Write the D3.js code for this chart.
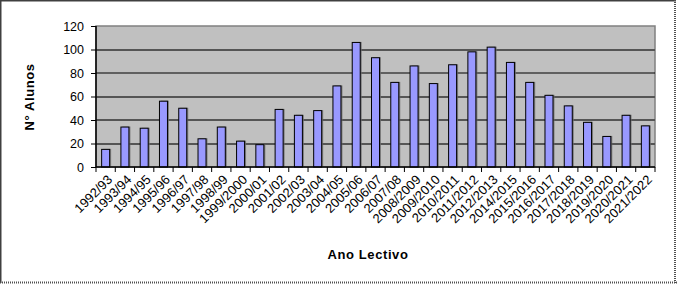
<!DOCTYPE html>
<html><head><meta charset="utf-8">
<script src="https://cdn.jsdelivr.net/npm/d3@7/dist/d3.min.js"></script>
<style>body{margin:0;background:#fff}svg{display:block}text{font-family:"Liberation Sans",Arial,sans-serif}</style>
</head><body>
<script>
const categories = ["1992/93","1993/94","1994/95","1995/96","1996/97","1997/98","1998/99","1999/2000","2000/01","2001/02","2002/03","2003/04","2004/05","2005/06","2006/07","2007/08","2008/2009","2009/2010","2010/2011","2011/2012","2012/2013","2014/2015","2015/2016","2016/2017","2017/2018","2018/2019","2019/2020","2020/2021","2021/2022"];
const values = [15,34,33,56,50,24,34,22,19,49,44,48,69,106,93,72,86,71,87,98,102,89,72,61,52,38,26,44,35];
const yTicks = [0,20,40,60,80,100,120];
const xTitle = "Ano Lectivo";
const yTitle = "N° Alunos";

const W = 677, H = 284;
const m = {left:96, top:26, right:655, bottom:167};
const svg = d3.select("body").append("svg").attr("width",W).attr("height",H);

// outer frame
svg.append("line").attr("x1",0.5).attr("x2",0.5).attr("y1",0).attr("y2",283).attr("stroke","#404040").attr("stroke-width",2);
svg.append("line").attr("x1",0).attr("x2",676).attr("y1",0.5).attr("y2",0.5).attr("stroke","#404040").attr("stroke-width",2);
svg.append("line").attr("x1",675).attr("x2",675).attr("y1",0).attr("y2",284).attr("stroke","#505050").attr("stroke-width",2).attr("stroke-dasharray","1,1");
svg.append("line").attr("x1",0).attr("x2",677).attr("y1",282.5).attr("y2",282.5).attr("stroke","#505050").attr("stroke-width",2).attr("stroke-dasharray","1,1");

const x = d3.scaleBand().domain(categories).range([m.left,m.right]).paddingInner(0).paddingOuter(0);
const y = d3.scaleLinear().domain([0,120]).range([m.bottom,m.top]);

// plot background
svg.append("rect").attr("x",m.left).attr("y",m.top).attr("width",m.right-m.left).attr("height",m.bottom-m.top)
  .attr("fill","#c0c0c0").attr("stroke","#808080").attr("stroke-width",1.5);

// gridlines
svg.append("g").selectAll("line").data(yTicks.filter(d=>d>0&&d<120)).join("line")
  .attr("x1",m.left).attr("x2",m.right)
  .attr("y1",d=>Math.round(y(d))).attr("y2",d=>Math.round(y(d)))
  .attr("stroke",d=>d===80?"#000":"#555").attr("stroke-width",d=>d===80?1:2);

// bars
const bw = 8;
const bars = svg.append("g");
bars.selectAll("rect.sh").data(values).join("rect").attr("class","sh")
  .attr("x",(d,i)=>x(categories[i])+x.bandwidth()/2-bw/2+1.5)
  .attr("y",d=>y(d)-0.5)
  .attr("width",bw).attr("height",d=>m.bottom-y(d))
  .attr("fill","#6a6a6a").attr("opacity",0.8);
bars.selectAll("rect.b").data(values).join("rect").attr("class","b")
  .attr("x",(d,i)=>x(categories[i])+x.bandwidth()/2-bw/2)
  .attr("y",d=>y(d))
  .attr("width",bw).attr("height",d=>m.bottom-y(d))
  .attr("fill","#9999ff").attr("stroke","#000").attr("stroke-width",1);

// y axis
const ya = svg.append("g").attr("transform",`translate(${m.left},0)`)
  .call(d3.axisLeft(y).tickValues(yTicks).tickSize(5).tickPadding(7));
ya.select(".domain").attr("stroke","#000").attr("stroke-width",1.5).attr("d",`M0,${m.top}V${m.bottom}`);
ya.selectAll("text").attr("font-size",12.5).attr("fill","#000").style("font-family","Liberation Sans, Arial, sans-serif");

// x axis with ticks at category boundaries
const xa = svg.append("g").attr("transform",`translate(0,${m.bottom})`);
xa.append("line").attr("x1",m.left).attr("x2",m.right).attr("y1",0).attr("y2",0).attr("stroke","#000").attr("stroke-width",1.5);
xa.selectAll("line.t").data(categories.concat([null])).join("line").attr("class","t")
  .attr("x1",(d,i)=>m.left+i*x.bandwidth()).attr("x2",(d,i)=>m.left+i*x.bandwidth())
  .attr("y1",0).attr("y2",5).attr("stroke","#000");
xa.selectAll("text").data(categories).join("text")
  .attr("transform",d=>`translate(${x(d)+x.bandwidth()/2+1},7) rotate(-45)`)
  .attr("text-anchor","end").attr("dy","0.7em")
  .attr("font-size",13).attr("fill","#000").text(d=>d);

// titles
svg.append("text").attr("x",368).attr("y",259).attr("text-anchor","middle")
  .attr("font-size",13).attr("font-weight","bold").attr("letter-spacing",0.6).text(xTitle);
svg.append("text").attr("transform","translate(34,97) rotate(-90)").attr("text-anchor","middle")
  .attr("font-size",13).attr("font-weight","bold").attr("letter-spacing",0.6).text(yTitle);
</script>
</body></html>
